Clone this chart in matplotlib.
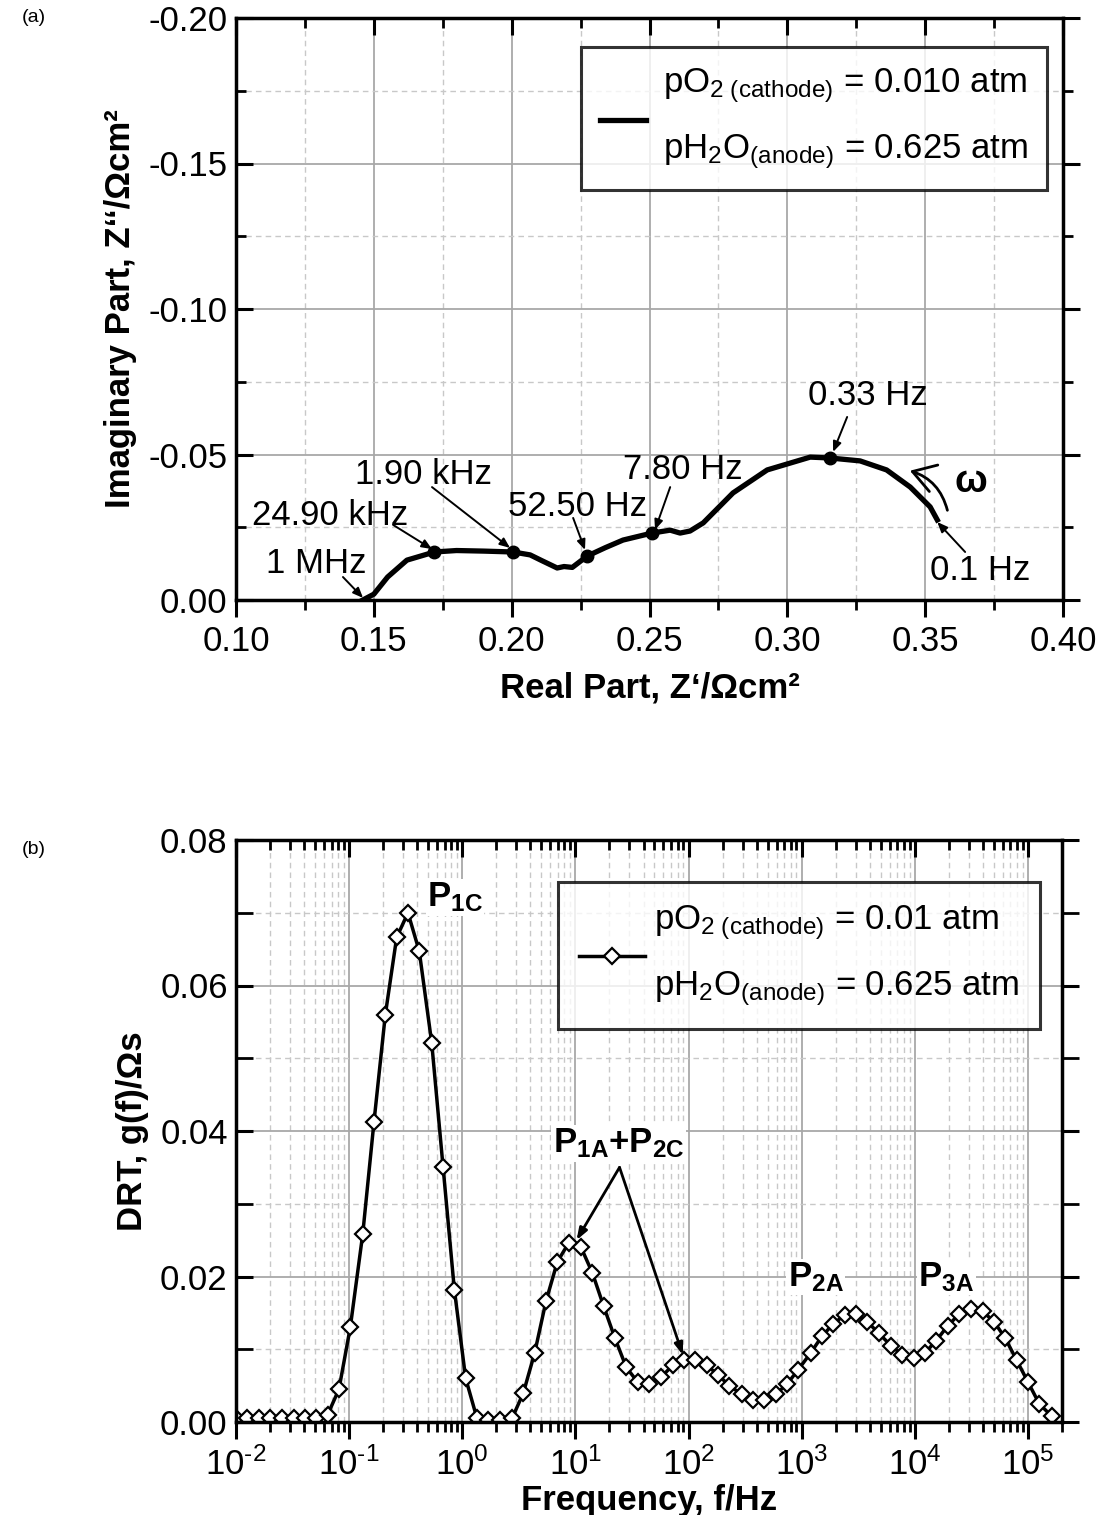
import math
import matplotlib
matplotlib.use('Agg')
import matplotlib.pyplot as plt
from matplotlib.ticker import MultipleLocator, LogLocator, NullFormatter, FixedLocator
from matplotlib.patches import FancyArrowPatch

plt.rcParams['font.family'] = ['Liberation Sans', 'DejaVu Sans']
plt.rcParams['mathtext.fontset'] = 'custom'
plt.rcParams['mathtext.rm'] = 'Liberation Sans'
plt.rcParams['mathtext.it'] = 'Liberation Sans:italic'
plt.rcParams['mathtext.bf'] = 'Liberation Sans:bold'
plt.rcParams['mathtext.default'] = 'regular'
plt.rcParams['axes.unicode_minus'] = False

# ---------------- data (a): Nyquist ----------------
z_real = [0.146, 0.150, 0.155, 0.162, 0.172, 0.180, 0.190, 0.2005, 0.2067, 0.211,
          0.2165, 0.219, 0.222, 0.2274, 0.234, 0.2404, 0.2509, 0.2575, 0.2611,
          0.2647, 0.2695, 0.2803, 0.2927, 0.3083, 0.3155, 0.3264, 0.336, 0.3446,
          0.3518, 0.3544]
z_imag = [0.0, -0.002, -0.0079, -0.0137, -0.0165, -0.0170, -0.0168, -0.0165, -0.0155,
          -0.0135, -0.0110, -0.0115, -0.0112, -0.0151, -0.0180, -0.0206, -0.0230,
          -0.0240, -0.0230, -0.0237, -0.0265, -0.0368, -0.0447, -0.0491, -0.0488,
          -0.0478, -0.0447, -0.0388, -0.0320, -0.0275]
mark_real = [0.172, 0.2005, 0.2274, 0.2509, 0.3155]
mark_imag = [-0.0165, -0.0165, -0.0151, -0.0230, -0.0488]
freq_labels_a = ['1 MHz', '24.90 kHz', '1.90 kHz', '52.50 Hz', '7.80 Hz', '0.33 Hz', '0.1 Hz']

# ---------------- data (b): DRT ----------------
log_f = [-2.00, -1.90, -1.80, -1.70, -1.59, -1.49, -1.39, -1.29, -1.19, -1.09,
         -0.99, -0.88, -0.78, -0.68, -0.58, -0.48, -0.38, -0.27, -0.17, -0.07,
         0.03, 0.13, 0.23, 0.33, 0.44, 0.54, 0.64, 0.74, 0.84, 0.94,
         1.05, 1.15, 1.25, 1.35, 1.45, 1.55, 1.65, 1.76, 1.86, 1.96,
         2.06, 2.16, 2.26, 2.36, 2.47, 2.57, 2.67, 2.77, 2.87, 2.97,
         3.08, 3.18, 3.28, 3.38, 3.48, 3.58, 3.68, 3.79, 3.89, 3.99,
         4.09, 4.19, 4.29, 4.39, 4.50, 4.60, 4.70, 4.80, 4.90, 5.00,
         5.10, 5.21]
g_f = [0.0005, 0.0005, 0.0005, 0.0005, 0.0005, 0.0005, 0.0005, 0.0005, 0.0010, 0.0045,
       0.0130, 0.0258, 0.0413, 0.0560, 0.0666, 0.0700, 0.0647, 0.0521, 0.0351, 0.0182,
       0.0060, 0.0005, 0.0003, 0.0003, 0.0005, 0.0040, 0.0095, 0.0166, 0.0220, 0.0246,
       0.0240, 0.0205, 0.0159, 0.0115, 0.0075, 0.0055, 0.0052, 0.0062, 0.0078, 0.0085,
       0.0085, 0.0078, 0.0065, 0.0050, 0.0038, 0.0030, 0.0030, 0.0038, 0.0052, 0.0072,
       0.0095, 0.0118, 0.0135, 0.0147, 0.0148, 0.0138, 0.0122, 0.0105, 0.0092, 0.0088,
       0.0095, 0.0112, 0.0132, 0.0148, 0.0155, 0.0152, 0.0138, 0.0115, 0.0085, 0.0055,
       0.0025, 0.0008]
freq = [10 ** v for v in log_f]

FS = 25
W, H = 1098, 1515
fig = plt.figure(figsize=(W / 100, H / 100), dpi=100)

def px_axes(l, t, r, b):
    return fig.add_axes([l / W, 1 - b / H, (r - l) / W, (b - t) / H])

def style_ticks(ax):
    for s in ax.spines.values():
        s.set_linewidth(2.5)
    ax.tick_params(which='major', length=12, width=2.2, labelsize=FS, pad=6)
    ax.tick_params(which='minor', length=7, width=2.0)
    ax.tick_params(axis='x', which='both', direction='out', top=False, bottom=True)
    ax.tick_params(axis='y', which='both', direction='in', left=True, right=False)
    ax.grid(which='major', color='#a8a8a8', lw=1.3, ls='-')
    ax.grid(which='minor', color='#c8c8c8', lw=1.0, ls=(0, (4, 3)))
    ax.set_axisbelow(True)

def mirror_ticks(ax, logx=False, ymin_len=7):
    # top ticks pointing in, right ticks pointing out
    axt = ax.twiny()
    if logx:
        axt.set_xscale('log')
    axt.set_xlim(ax.get_xlim())
    axt.xaxis.set_major_locator(FixedLocator(ax.xaxis.get_majorticklocs()))
    axt.xaxis.set_minor_locator(FixedLocator(ax.xaxis.get_minorticklocs()))
    axt.xaxis.set_minor_formatter(NullFormatter())
    axt.tick_params(axis='x', which='both', direction='in', labeltop=False, top=True)
    axt.tick_params(which='major', length=12, width=2.2)
    axt.tick_params(which='minor', length=7, width=2.0)
    for s in axt.spines.values():
        s.set_visible(False)
    axr = ax.twinx()
    axr.set_ylim(ax.get_ylim())
    axr.yaxis.set_major_locator(FixedLocator(ax.yaxis.get_majorticklocs()))
    axr.yaxis.set_minor_locator(FixedLocator(ax.yaxis.get_minorticklocs()))
    axr.tick_params(axis='y', which='both', direction='out', labelright=False, right=True)
    axr.tick_params(which='major', length=12, width=2.2)
    axr.tick_params(which='minor', length=ymin_len, width=2.0)
    for s in axr.spines.values():
        s.set_visible(False)

def pow10_fmt(v, p):
    e = int(round(math.log10(v)))
    return r'$10^{\text{%d}}$' % e

# ================= panel (a) =================
ax1 = px_axes(236, 18, 1063, 600)
ax1.plot(z_real, z_imag, color='black', lw=3.8, solid_joinstyle='round',
         label='pO$_{2\\ (cathode)}$ = 0.010 atm\npH$_2$O$_{(anode)}$ = 0.625 atm')
ax1.plot(mark_real, mark_imag, 'o', color='black', ms=9, zorder=5)
ax1.set_xlim(0.10, 0.40)
ax1.set_ylim(0.0, -0.20)
ax1.xaxis.set_major_locator(MultipleLocator(0.05))
ax1.xaxis.set_minor_locator(MultipleLocator(0.025))
ax1.yaxis.set_major_locator(MultipleLocator(0.05))
ax1.yaxis.set_minor_locator(MultipleLocator(0.025))
ax1.xaxis.set_major_formatter(plt.FuncFormatter(lambda v, p: f'{v:.2f}'))
ax1.yaxis.set_major_formatter(plt.FuncFormatter(lambda v, p: f'{v:.2f}'.replace('-0.00', '0.00')))
style_ticks(ax1)
ax1.set_xlabel('Real Part, Z\u2018/\u03a9cm\u00b2', fontsize=FS, fontweight='bold', labelpad=10)
ax1.set_ylabel('Imaginary Part, Z\u2018\u2018/\u03a9cm\u00b2', fontsize=FS, fontweight='bold', labelpad=8)

leg1 = ax1.legend(loc='upper right', bbox_to_anchor=(0.981, 0.950), borderaxespad=0,
                  fontsize=FS, frameon=True, fancybox=False, handlelength=1.3,
                  handletextpad=0.5, borderpad=0.55)
leg1.get_frame().set_edgecolor('black')
leg1.get_frame().set_linewidth(2.2)
for t in leg1.get_texts():
    t.set_linespacing(2.05)

arrow_kw = dict(arrowstyle='-|>,head_length=0.6,head_width=0.25', color='black', lw=1.4,
                shrinkA=0, shrinkB=0)
# (text x, text y, arrow start, arrow end)
ann_a = [
    (0.1109, -0.0127, (0.1388, -0.0079), (0.1461, -0.0007)),
    (0.1058, -0.0292, (0.1570, -0.0258), (0.1711, -0.0175)),
    (0.1432, -0.0430, (0.1711, -0.0388), (0.1994, -0.0179)),
    (0.1987, -0.0320, (0.2223, -0.0282), (0.2266, -0.0172)),
    (0.2404, -0.0447, (0.2575, -0.0388), (0.2520, -0.0241)),
    (0.3075, -0.0704, (0.3217, -0.0629), (0.3166, -0.0509)),
    (0.3518, -0.0103, (0.3645, -0.0165), (0.3544, -0.0268)),
]
for lab, (tx, ty, a0, a1) in zip(freq_labels_a, ann_a):
    ax1.text(tx, ty, lab, fontsize=FS, ha='left', va='center', zorder=6)
    ax1.annotate('', xy=a1, xytext=a0, arrowprops=arrow_kw, zorder=6)

omega_arrow = FancyArrowPatch((0.3583, -0.0299), (0.3435, -0.0447),
                              connectionstyle='arc3,rad=0.3',
                              arrowstyle='->,head_length=8,head_width=5',
                              color='black', lw=2.0, mutation_scale=2)
ax1.add_patch(omega_arrow)
ax1.text(0.3605, -0.0405, '\u03c9', fontsize=28, fontweight='bold', ha='left', va='center')

mirror_ticks(ax1)

# ================= panel (b) =================
ax2 = px_axes(236, 840, 1062, 1422)
ax2.plot(freq, g_f, '-', color='black', lw=2.5, marker='D', ms=8.5, mfc='white',
         mec='black', mew=1.6,
         label='pO$_{2\\ (cathode)}$ = 0.01 atm\npH$_2$O$_{(anode)}$ = 0.625 atm')
ax2.set_xscale('log')
ax2.set_xlim(1e-2, 2e5)
ax2.set_ylim(0.0, 0.08)
ax2.xaxis.set_major_locator(LogLocator(base=10, numticks=20))
ax2.xaxis.set_minor_locator(LogLocator(base=10, subs=[2, 3, 4, 5, 6, 7, 8, 9], numticks=20))
ax2.xaxis.set_major_formatter(plt.FuncFormatter(pow10_fmt))
ax2.xaxis.set_minor_formatter(NullFormatter())
ax2.yaxis.set_major_locator(MultipleLocator(0.02))
ax2.yaxis.set_minor_locator(MultipleLocator(0.01))
ax2.yaxis.set_major_formatter(plt.FuncFormatter(lambda v, p: f'{v:.2f}'))
style_ticks(ax2)
ax2.tick_params(axis='y', which='minor', length=12)
ax2.set_xlabel('Frequency, f/Hz', fontsize=FS, fontweight='bold', labelpad=2)
ax2.set_ylabel('DRT, g(f)/\u03a9s', fontsize=FS, fontweight='bold', labelpad=8)

leg2 = ax2.legend(loc='upper right', bbox_to_anchor=(0.973, 0.928), borderaxespad=0,
                  fontsize=FS, frameon=True, fancybox=False, handlelength=1.9,
                  handletextpad=0.25, borderpad=0.6)
leg2.get_frame().set_edgecolor('black')
leg2.get_frame().set_linewidth(2.2)
for t in leg2.get_texts():
    t.set_linespacing(2.05)

bb = dict(facecolor='white', edgecolor='none', pad=1)
ax2.text(10 ** -0.31, 0.0721, r'P$_{\mathbf{1C}}$', fontsize=FS, fontweight='bold',
         ha='left', va='center', bbox=bb)
ax2.text(10 ** 0.80, 0.0383, r'P$_{\mathbf{1A}}$+P$_{\mathbf{2C}}$', fontsize=FS,
         fontweight='bold', ha='left', va='center', bbox=bb)
ax2.text(10 ** 2.876, 0.0199, r'P$_{\mathbf{2A}}$', fontsize=FS, fontweight='bold',
         ha='left', va='center', bbox=bb)
ax2.text(10 ** 4.03, 0.0199, r'P$_{\mathbf{3A}}$', fontsize=FS, fontweight='bold',
         ha='left', va='center', bbox=bb)
arrow_kw2 = dict(arrowstyle='-|>,head_length=0.7,head_width=0.25', color='black', lw=2.0,
                 shrinkA=0, shrinkB=0)
ax2.annotate('', xy=(10 ** 1.01, 0.0250), xytext=(10 ** 1.39, 0.0350), arrowprops=arrow_kw2)
ax2.annotate('', xy=(10 ** 1.95, 0.0092), xytext=(10 ** 1.39, 0.0350), arrowprops=arrow_kw2)

mirror_ticks(ax2, logx=True, ymin_len=12)

fig.text(22 / W, 1 - 18 / H, '(a)', fontsize=14, ha='left', va='center')
fig.text(22 / W, 1 - 850 / H, '(b)', fontsize=14, ha='left', va='center')

fig.savefig('out.png', dpi=100)
